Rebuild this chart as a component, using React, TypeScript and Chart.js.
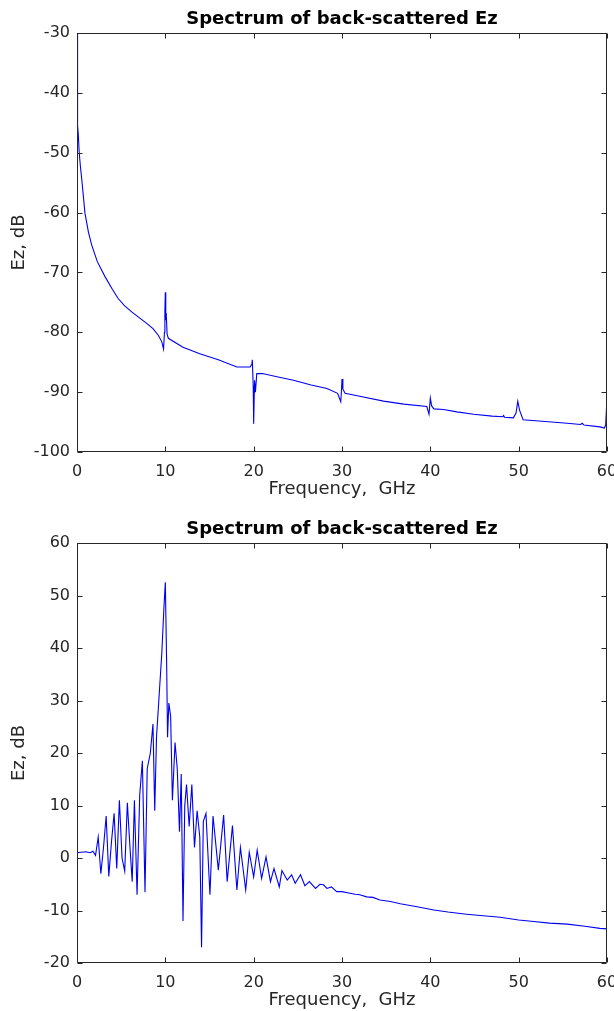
import React, { useEffect, useRef } from "react";
import { Chart, registerables } from "chart.js";

Chart.register(...registerables);

const chartTitle = "Spectrum of back-scattered Ez";
const xLabel = "Frequency,  GHz";
const yLabel = "Ez, dB";
const xTicks = [0, 10, 20, 30, 40, 50, 60];

// Top panel: frequency (GHz) and Ez (dB)
const freqTop = [
  0, 0.03, 0.06, 0.1, 0.15, 0.25, 0.4, 0.55, 0.9, 1.3, 1.66, 2.3, 3.17, 4.0, 4.68, 5.4, 6.19, 7.0, 7.89,
  8.6, 9.2, 9.6, 9.8, 9.9, 9.95, 10.0, 10.05, 10.1, 10.2, 10.34, 12.0, 13.9, 16.0, 18.1, 19.6, 19.8, 19.85,
  19.95, 20.0, 20.1, 20.2, 20.35, 21.0, 22.5, 24.5, 26.5, 28.3, 29.5, 29.86, 29.95, 30.0, 30.1, 30.35, 32.0,
  34.7, 37.0, 39.6, 39.85, 40.0, 40.15, 40.4, 41.5, 43.0, 44.9, 47.0, 48.2, 48.3, 48.4, 49.4, 49.7, 49.9,
  50.1, 50.5, 53.0, 55.5, 57.0, 57.2, 57.4, 59.2, 59.7, 59.85, 60.0,
];
const ezTop = [
  -30, -37, -44, -45.5, -47, -50, -52.5, -54.6, -60.1, -63.3, -65.4, -68.2, -70.7, -72.8, -74.4, -75.6, -76.6,
  -77.5, -78.5, -79.4, -80.5, -81.6, -82.8, -80, -76.5, -73.3, -78, -76.8, -80.3, -81.0, -82.5, -83.6, -84.6,
  -85.8, -85.8, -85.3, -84.6, -89, -95.3, -88, -90, -86.9, -86.9, -87.4, -88.0, -88.8, -89.4, -90.2, -91.6,
  -89.5, -87.8, -89.5, -90.2, -90.7, -91.5, -92.0, -92.4, -93.7, -91.0, -92.3, -92.8, -92.9, -93.3, -93.7,
  -94.0, -94.1, -93.9, -94.2, -94.3, -93.5, -91.5, -93.0, -94.6, -94.9, -95.2, -95.4, -95.2, -95.5, -95.8,
  -96.0, -95.5, -90.8,
];

// Bottom panel
const freqBottom = [
  0, 0.5, 1.0, 1.5, 1.8, 2.1, 2.4, 2.7, 3.0, 3.3, 3.6, 3.9, 4.2, 4.5, 4.8, 5.1, 5.4, 5.7, 6.0, 6.25, 6.5, 6.8,
  7.1, 7.4, 7.7, 7.95, 8.3, 8.6, 8.8, 9.0, 9.3, 9.6, 9.85, 10.0, 10.15, 10.25, 10.4, 10.6, 10.8, 11.1, 11.35,
  11.6, 11.8, 12.0, 12.2, 12.4, 12.7, 13.0, 13.3, 13.6, 13.9, 14.1, 14.3, 14.6, 15.05, 15.4, 16.0, 16.6, 17.0,
  17.6, 18.1, 18.5, 19.1, 19.5, 20.0, 20.4, 20.9, 21.4, 21.9, 22.3, 22.9, 23.2, 23.8, 24.3, 24.7, 25.3, 25.8,
  26.3, 27.0, 27.5, 27.9, 28.3, 28.8, 29.4, 30.0, 30.9, 31.5, 32.0, 32.8, 33.5, 34.3, 35.5, 36.6, 38.5, 40.4,
  42.0, 44.1, 46.0, 47.9, 50.0, 51.7, 53.5, 55.5, 57.5, 59.2, 60.0,
];
const ezBottom = [
  1.0, 1.1, 1.2, 1.0, 1.3, 0.5, 4.0, -3.0, 2.0, 8.0, -3.5, 3.0, 8.5, -2.0, 11.0, 0.0, -2.5, 10.5, 2.0, -4.5,
  11.0, -7.0, 12.0, 18.5, -6.5, 17.0, 20.0, 25.5, 9.0, 23.0, 31.0, 39.0, 48.0, 52.5, 37.0, 23.0, 29.5, 27.0,
  11.0, 22.0, 17.0, 5.0, 16.0, -12.0, 10.0, 14.0, 6.0, 14.0, 2.0, 9.0, 4.0, -17.0, 7.0, 8.5, -7.0, 8.0, -2.3,
  8.2, -4.5, 6.2, -6.1, 2.0, -6.1, 1.1, -3.6, 1.5, -3.9, 0.2, -4.5, -2.0, -5.5, -2.4, -4.2, -3.2, -4.8, -3.2,
  -5.3, -4.5, -5.8, -5.0, -5.1, -5.8, -5.5, -6.4, -6.4, -6.7, -6.9, -7.0, -7.4, -7.5, -8.0, -8.3, -8.7, -9.3,
  -9.9, -10.3, -10.7, -11.0, -11.3, -11.8, -12.1, -12.4, -12.6, -13.0, -13.4, -13.5,
];

const FONT = '"DejaVu Sans", sans-serif';
const AXIS_COLOR = "#262626";

const matlabPlugin = {
  id: "matlabAxes",
  afterDraw(chart: any) {
    const { ctx, chartArea: a, scales } = chart;
    const o = chart.options.plugins.matlabAxes;
    ctx.save();
    ctx.strokeStyle = AXIS_COLOR;
    ctx.lineWidth = 1;
    const L = Math.round(a.left) + 0.5;
    const R = Math.round(a.right) - 0.5;
    const T = Math.round(a.top) + 0.5;
    const B = Math.round(a.bottom) - 0.5;
    ctx.beginPath();
    ctx.rect(L, T, R - L, B - T);
    const tl = 5;
    scales.x.ticks.forEach((t: any) => {
      const px = Math.round(scales.x.getPixelForValue(t.value)) + 0.5;
      ctx.moveTo(px, B);
      ctx.lineTo(px, B - tl);
      ctx.moveTo(px, T);
      ctx.lineTo(px, T + tl);
    });
    scales.y.ticks.forEach((t: any) => {
      const py = Math.round(scales.y.getPixelForValue(t.value)) + 0.5;
      ctx.moveTo(L, py);
      ctx.lineTo(L + tl, py);
      ctx.moveTo(R, py);
      ctx.lineTo(R - tl, py);
    });
    ctx.stroke();

    const cx = (a.left + a.right) / 2;
    ctx.fillStyle = "#000";
    ctx.textAlign = "center";
    ctx.textBaseline = "alphabetic";
    ctx.font = `bold 18px ${FONT}`;
    ctx.fillText(o.title, cx, a.top - 9);

    ctx.fillStyle = AXIS_COLOR;
    ctx.font = `18px ${FONT}`;
    ctx.fillText(o.xLabel, cx, a.bottom + 42);

    ctx.save();
    ctx.translate(24, (a.top + a.bottom) / 2);
    ctx.rotate(-Math.PI / 2);
    ctx.fillText(o.yLabel, 0, 0);
    ctx.restore();
    ctx.restore();
  },
};

function Panel(props: {
  freq: number[];
  ez: number[];
  yMin: number;
  yMax: number;
  height: number;
  padTop: number;
  xHeight: number;
  top: number;
}) {
  const ref = useRef<HTMLCanvasElement>(null);
  useEffect(() => {
    const canvas = ref.current!;
    const pts = props.freq.map((f, i) => ({ x: f, y: props.ez[i] }));
    const chart = new Chart(canvas, {
      type: "line",
      data: {
        datasets: [
          {
            data: pts,
            borderColor: "rgb(0,0,240)",
            borderWidth: 1.1,
            pointRadius: 0,
            tension: 0,
            fill: false,
          },
        ],
      },
      options: {
        animation: false,
        responsive: false,
        layout: { padding: { left: 0, right: 7, top: props.padTop, bottom: 0 } },
        plugins: {
          legend: { display: false },
          tooltip: { enabled: false },
          title: { display: false },
          matlabAxes: { title: chartTitle, xLabel, yLabel },
        } as any,
        scales: {
          x: {
            type: "linear",
            min: xTicks[0],
            max: xTicks[xTicks.length - 1],
            afterBuildTicks: (s: any) => {
              s.ticks = xTicks.map((v) => ({ value: v }));
            },
            grid: { display: false, drawTicks: false },
            border: { display: false },
            ticks: {
              padding: 10,
              color: AXIS_COLOR,
              font: { family: "DejaVu Sans", size: 16 },
              maxRotation: 0,
              autoSkip: false,
            },
            afterFit: (s: any) => {
              s.height = props.xHeight;
              s.paddingRight = 0;
              s.paddingLeft = 0;
            },
          },
          y: {
            type: "linear",
            min: props.yMin,
            max: props.yMax,
            ticks: {
              stepSize: 10,
              padding: 7,
              color: AXIS_COLOR,
              font: { family: "DejaVu Sans", size: 16 },
            },
            grid: { display: false, drawTicks: false },
            border: { display: false },
            afterFit: (s: any) => {
              s.width = 77;
              s.paddingTop = 0;
              s.paddingBottom = 0;
            },
          },
        },
      },
      plugins: [matlabPlugin],
    });
    return () => chart.destroy();
  }, []);
  return (
    <canvas
      ref={ref}
      width={614}
      height={props.height}
      style={{ position: "absolute", left: 0, top: props.top, width: 614, height: props.height }}
    />
  );
}

export default function App() {
  return (
    <div style={{ position: "absolute", left: 0, top: 0, width: 614, height: 1011, background: "#fff", overflow: "hidden" }}>
      <Panel freq={freqTop} ez={ezTop} yMin={-100} yMax={-30} height={505} padTop={33} xHeight={53} top={0} />
      <Panel freq={freqBottom} ez={ezBottom} yMin={-20} yMax={60} height={506} padTop={38} xHeight={48} top={505} />
    </div>
  );
}
